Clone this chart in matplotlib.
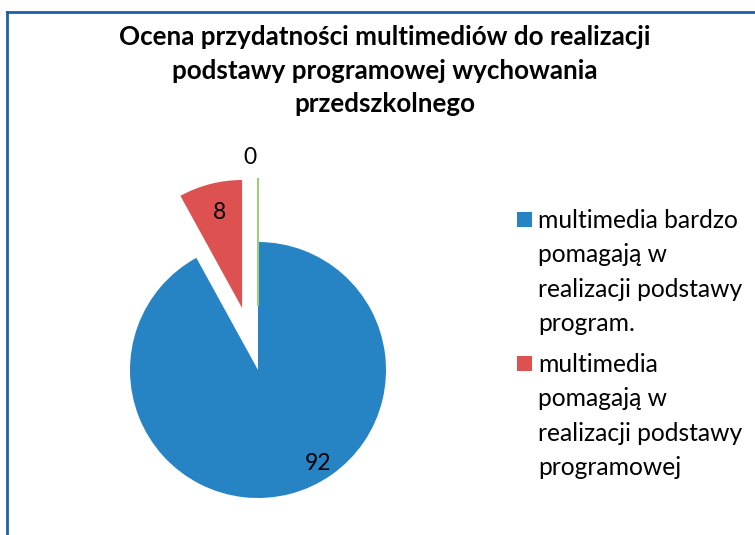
import matplotlib.pyplot as plt
from matplotlib.lines import Line2D
from matplotlib.patches import Rectangle

# data
values = [92, 8, 0]
value_labels = ['92', '8', '0']
legend_labels = [
    'multimedia bardzo\npomagają w\nrealizacji podstawy\nprogram.',
    'multimedia\npomagają w\nrealizacji podstawy\nprogramowej',
]
title = ('Ocena przydatności multimediów do realizacji\n'
         'podstawy programowej wychowania\nprzedszkolnego')

colors = ['#2683c4', '#dd5151', '#9bd174']
explode = [0, 0.5, 0.5]

plt.rcParams['font.family'] = ['Lato', 'DejaVu Sans']

W, H = 755, 535
fig = plt.figure(figsize=(W / 100, H / 100), dpi=100)

# pie axes: 128 px per data unit, centre at (258, 370) from top-left
r = 128
cx, cy = 258, H - 370
x0, x1 = -1.6, 1.6
y0, y1 = -1.35, 1.9
ax = fig.add_axes([(cx + x0 * r) / W, (cy + y0 * r) / H,
                   (x1 - x0) * r / W, (y1 - y0) * r / H])

wedges, _ = ax.pie(values, colors=colors, explode=explode, startangle=90,
                   counterclock=False)
# the zero slice only shows as a thin line
wedges[2].set_edgecolor(colors[2])
wedges[2].set_linewidth(1.5)
ax.set_xlim(x0, x1)
ax.set_ylim(y0, y1)
ax.set_aspect('equal')
ax.axis('off')

label_pos = [(0.47, -0.73), (-0.30, 1.23), (-0.06, 1.66)]
for txt, (lx, ly) in zip(value_labels, label_pos):
    ax.text(lx, ly, txt, ha='center', va='center', fontsize=16.5,
            color='black')

fig.text(0.5 * (118 + 652) / W, 1 - 25 / H, title, ha='center', va='top',
         fontsize=18.7, fontweight='bold', linespacing=1.48)

# legend drawn by hand
sq = 15
for i, (lab, col) in enumerate(zip(legend_labels, colors[:2])):
    top = 212 + i * 144
    fig.add_artist(Rectangle((517 / W, 1 - (top + sq) / H), sq / W, sq / H,
                             transform=fig.transFigure, facecolor=col,
                             edgecolor='none'))
    fig.text(538 / W, 1 - (top - 3) / H, lab, ha='left', va='top',
             fontsize=17.7, linespacing=1.6)

# chart frame (only the left and top edges are visible)
frame = '#1f5fa8'
fig.add_artist(Line2D([6.5 / W, 6.5 / W], [0, 1 - 12 / H],
                      transform=fig.transFigure, color=frame, lw=2))
fig.add_artist(Line2D([6.5 / W, 1], [1 - 12 / H, 1 - 12 / H],
                      transform=fig.transFigure, color=frame, lw=2))

fig.savefig('out.png', dpi=100)
